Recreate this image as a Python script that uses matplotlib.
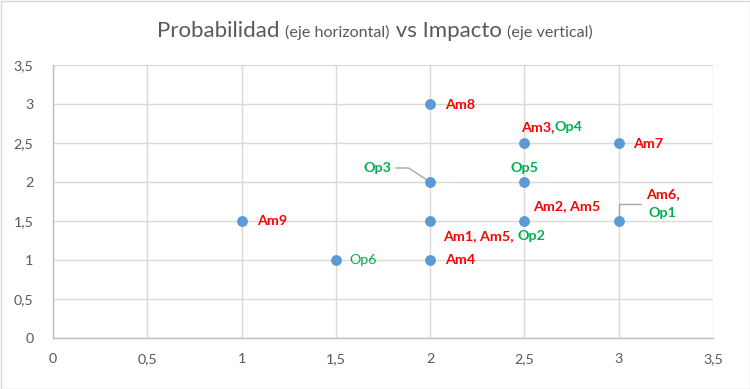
import matplotlib
matplotlib.use("Agg")
import matplotlib.pyplot as plt
from matplotlib.offsetbox import TextArea, HPacker, VPacker, AnnotationBbox
from matplotlib.patches import Rectangle
from matplotlib.ticker import FuncFormatter

# ---- data ----
prob = [2.0, 2.5, 3.0, 2.0, 2.5, 2.5, 2.0, 3.0, 1.0, 1.5, 2.0]
impact = [3.0, 2.5, 2.5, 2.0, 2.0, 1.5, 1.5, 1.5, 1.5, 1.0, 1.0]
label_parts = [
    [("Am8", "r")],
    [("Am3,", "r"), ("Op4", "g")],
    [("Am7", "r")],
    [("Op3", "g")],
    [("Op5", "g")],
    [("Am2, Am5", "r")],
    [("Am1, Am5, ", "r"), ("Op2", "g")],
    [("Am6,", "r"), ("Op1", "g")],
    [("Am9", "r")],
    [("Op6", "g")],
    [("Am4", "r")],
]
title_parts = [("Probabilidad ", "big"), ("(eje horizontal)", "small"),
               (" vs Impacto ", "big"), ("(eje vertical)", "small")]
ticks = [0, 0.5, 1, 1.5, 2, 2.5, 3, 3.5]

# ---- style ----
FONT = ["Lato", "DejaVu Sans"]
plt.rcParams["font.family"] = FONT
COL = {"r": "#FF0000", "g": "#00B050"}
GRID = "#D9D9D9"
TXT = "#595959"
LBL = 10.3
# per-label placement: (dx px, dy px, box alignment, stacked, bold, leader)
place = [
    (15, -1, (0, 0.5), False, True, None),
    (-3, 16, (0, 0.5), False, True, None),
    (14, -1, (0, 0.5), False, True, None),
    (-39, 14, (1, 0.5), False, True, "op3"),
    (0, 14, (0.5, 0.5), False, True, None),
    (9, 15, (0, 0.5), False, True, None),
    (13, -15, (0, 0.5), False, True, None),
    (44, 17, (0.5, 0.5), True, True, "am6"),
    (16, 0, (0, 0.5), False, True, None),
    (14, 0, (0, 0.5), False, False, None),
    (15, 0, (0, 0.5), False, True, None),
]

fig = plt.figure(figsize=(7.5, 3.89), dpi=100)
fig.patches.append(Rectangle((0.5 / 750, 0.5 / 389), 1 - 1 / 750, 1 - 1 / 389,
                             transform=fig.transFigure, fill=False,
                             edgecolor=GRID, linewidth=1))
ax = fig.add_axes([53 / 750, 51 / 389, 660 / 750, 273 / 389])
ax.set_xlim(0, 3.5)
ax.set_ylim(0, 3.5)
ax.set_xticks(ticks)
ax.set_yticks(ticks)
fmt = FuncFormatter(lambda v, p: ("%g" % v).replace(".", ","))
ax.xaxis.set_major_formatter(fmt)
ax.yaxis.set_major_formatter(fmt)
ax.grid(True, color=GRID, linewidth=1)
ax.set_axisbelow(True)
for s in ["top", "right"]:
    ax.spines[s].set_visible(False)
for s in ["left", "bottom"]:
    ax.spines[s].set_color("#BFBFBF")
    ax.spines[s].set_linewidth(1)
ax.tick_params(length=0, colors=TXT, labelsize=10.3)
ax.tick_params(axis="x", pad=11)
ax.tick_params(axis="y", pad=14)

ax.scatter(prob, impact, s=46, color="#5B9BD5", zorder=3, clip_on=False)

for (px, py), parts, (dx, dy, align, stacked, bold, leader) in zip(
        zip(prob, impact), label_parts, place):
    areas = [TextArea(t, textprops=dict(color=COL[c], fontsize=LBL,
                                        fontweight="bold" if bold else "normal",
                                        family=FONT)) for t, c in parts]
    if stacked:
        box = VPacker(children=areas, align="center", pad=0, sep=5)
    else:
        box = HPacker(children=areas, align="baseline", pad=0, sep=0)
    arrow = None
    if leader == "op3":
        arrow = dict(arrowstyle="-", color="#A6A6A6", lw=1, shrinkA=3, shrinkB=4,
                     connectionstyle="angle,angleA=0,angleB=-33,rad=0")
    elif leader == "am6":
        arrow = dict(arrowstyle="-", color="#A6A6A6", lw=1, shrinkA=3, shrinkB=4,
                     connectionstyle="angle,angleA=180,angleB=90,rad=0")
    ab = AnnotationBbox(box, (px, py), xybox=(dx, dy), xycoords="data",
                        boxcoords="offset pixels", box_alignment=align,
                        frameon=False, pad=0, arrowprops=arrow,
                        annotation_clip=False)
    ax.add_artist(ab)

size = {"big": 16, "small": 11.6}
tareas = [TextArea(t, textprops=dict(color=TXT, fontsize=size[k], family=FONT))
          for t, k in title_parts]
tbox = HPacker(children=tareas, align="baseline", pad=0, sep=0)
fig.add_artist(AnnotationBbox(tbox, (0.5, 1 - 31 / 389), xycoords="figure fraction",
                              box_alignment=(0.5, 0.5), frameon=False, pad=0))

fig.savefig("out.png", dpi=100)
